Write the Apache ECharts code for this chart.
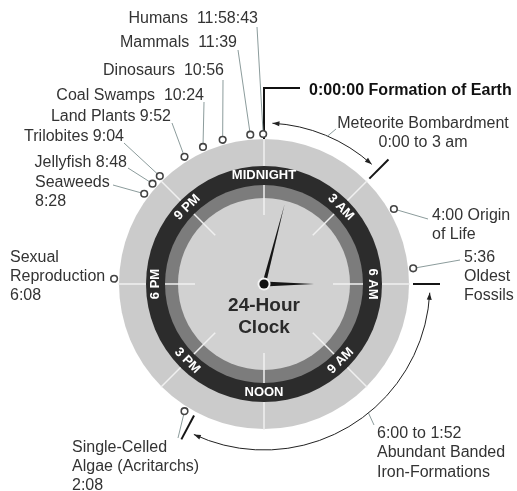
<!DOCTYPE html>
<html>
<head>
<meta charset="utf-8">
<script src="https://cdn.jsdelivr.net/npm/echarts@6/dist/echarts.min.js"></script>
<style>
html, body { margin: 0; padding: 0; background: #fff; }
#main { width: 517px; height: 491px; }
</style>
</head>
<body>
<div id="main"></div>
<script>
var dom = document.getElementById('main');
var myChart = echarts.init(dom);

// dial
var hourMarks = [0, 3, 6, 9, 12, 15, 18, 21];
var hourLabels = ['MIDNIGHT', '3 AM', '6 AM', '9 AM', 'NOON', '3 PM', '6 PM', '9 PM'];
var clockTitle = '24-Hour\nClock';

// events, 24h time on the dial
var eventNames = ['Formation of Earth', 'Origin\nof Life', 'Oldest\nFossils',
    'Single-Celled\nAlgae (Acritarchs)', 'Sexual\nReproduction', 'Seaweeds', 'Jellyfish',
    'Trilobites', 'Land Plants', 'Coal Swamps', 'Dinosaurs', 'Mammals', 'Humans'];
var eventTimes = ['0:00:00', '4:00', '5:36', '14:08', '18:08', '20:28', '20:48',
    '21:04', '21:52', '22:24', '22:56', '23:39', '23:58:43'];

// long periods
var periodNames = ['Meteorite Bombardment', 'Abundant Banded\nIron-Formations'];
var periodSpans = ['0:00 to 3 am', '6:00 to 1:52'];
var periodStart = ['0:00', '6:00'];
var periodEnd = ['3:00', '13:52'];

// clock hands
var handTimes = ['6:00', '0:58'];

var FONT = '"Liberation Sans", Arial, Helvetica, sans-serif';

// label placement (pixels)
var eventLayout = [
    { x: 309, y: 81.5, align: 'left', fmt: '{t} {n}', bold: true, bracket: [88, 300] },
    { x: 432, y: 206.5, align: 'left', fmt: '{t} {n}', lead: [428, 219] },
    { x: 464, y: 248.5, align: 'left', fmt: '{t}\n{n}', lead: [460, 260] },
    { x: 72, y: 438.5, align: 'left', fmt: '{n}\n{t}', lead: [178, 438] },
    { x: 10, y: 248.5, align: 'left', fmt: '{n}\n{t}' },
    { x: 35, y: 173.5, align: 'left', fmt: '{n}\n{t}', lead: [113, 185] },
    { x: 127, y: 153.5, align: 'right', fmt: '{n} {t}', lead: [128, 168] },
    { x: 124, y: 127.5, align: 'right', fmt: '{n} {t}', lead: [124, 143] },
    { x: 171, y: 107.5, align: 'right', fmt: '{n} {t}', lead: [172, 123] },
    { x: 204, y: 86.5, align: 'right', fmt: '{n}  {t}', lead: [204, 102] },
    { x: 224, y: 61.5, align: 'right', fmt: '{n}  {t}', lead: [223, 80] },
    { x: 237, y: 33.5, align: 'right', fmt: '{n}  {t}', lead: [238, 50] },
    { x: 258, y: 9.5, align: 'right', fmt: '{n}  {t}', lead: [257, 27] }
];
var periodLayout = [
    { r: 161, x: 423, y: 113.5, align: 'center', fmt: '{n}\n{t}', leadAt: 1.55, lead: [336, 129] },
    { r: 166, x: 377, y: 423.5, align: 'left', fmt: '{t}\n{n}', leadAt: 9.4, lead: [374, 425] }
];
var handLength = [50, 82];
var handWidth = [2.6, 1.8];

function toHours(s) {
    var p = s.split(':');
    return +p[0] + (+(p[1] || 0)) / 60 + (+(p[2] || 0)) / 3600;
}
function shown(s) {
    var p = s.split(':');
    var h = +p[0];
    if (h > 12) h -= 12;
    p[0] = String(h);
    return p.join(':');
}
function px(api, r) {
    var c = api.coord([0, 0]);
    var t = api.coord([r, 0]);
    return Math.abs(c[1] - t[1]);
}
function seg(a, b, stroke, w) {
    return { type: 'line', shape: { x1: a[0], y1: a[1], x2: b[0], y2: b[1] }, style: { stroke: stroke, lineWidth: w } };
}

function renderFace(params, api) {
    var c = api.coord([0, 0]);
    var rings = [[145, '#cbcbcb'], [118, '#2c2c2c'], [99, '#7c7c7c'], [86, '#d1d1d1']];
    var kids = rings.map(function (g) {
        return { type: 'circle', shape: { cx: c[0], cy: c[1], r: px(api, g[0]) }, style: { fill: g[1] } };
    });
    kids.push({
        type: 'text', x: c[0], y: c[1] + 33,
        style: { text: clockTitle, fill: '#2a2a2a', fontFamily: FONT, fontSize: 19, fontWeight: 'bold',
            align: 'center', verticalAlign: 'middle', lineHeight: 22 }
    });
    return { type: 'group', children: kids };
}

function renderHour(params, api) {
    var i = api.value(2), h = api.value(1);
    var kids = [];
    [[69, 99], [118, 146]].forEach(function (s) {
        kids.push(seg(api.coord([s[0], h]), api.coord([s[1], h]), '#f0f0f0', 1.5));
    });
    var deg = h * 15;
    var rot = (deg > 90 && deg < 270) ? Math.PI - deg * Math.PI / 180
        : -(deg > 180 ? deg - 360 : deg) * Math.PI / 180;
    var p = api.coord([api.value(0), h]);
    kids.push({
        type: 'text', x: p[0], y: p[1], rotation: rot,
        style: { text: hourLabels[i], fill: '#fff', fontFamily: FONT, fontSize: 13, fontWeight: 'bold',
            align: 'center', verticalAlign: 'middle' }
    });
    return { type: 'group', children: kids };
}

function renderPeriod(params, api) {
    var R = api.value(0), h0 = api.value(1), h1 = api.value(2), i = api.value(3);
    var L = periodLayout[i];
    var c = api.coord([0, 0]);
    var pr = px(api, R);
    var a0 = h0 + 0.2, a1 = h1 - 0.2;
    var d = 7 / (pr * Math.PI / 12);
    var kids = [];
    kids.push({
        type: 'arc',
        shape: { cx: c[0], cy: c[1], r: pr, startAngle: (a0 * 15 - 90) * Math.PI / 180,
            endAngle: (a1 * 15 - 90) * Math.PI / 180, clockwise: true },
        style: { stroke: '#222', lineWidth: 1, fill: null }
    });
    kids.push({ type: 'polygon', shape: { points: [api.coord([R, a0]), api.coord([R + 2.5, a0 + d]), api.coord([R - 2.5, a0 + d])] }, style: { fill: '#222' } });
    kids.push({ type: 'polygon', shape: { points: [api.coord([R, a1]), api.coord([R + 2.5, a1 - d]), api.coord([R - 2.5, a1 - d])] }, style: { fill: '#222' } });
    [h0, h1].forEach(function (h) {
        if (h > 0) kids.push(seg(api.coord([149, h]), api.coord([176, h]), '#151515', 2));
    });
    kids.push(seg(api.coord([R, L.leadAt]), L.lead, '#8c9c9c', 1));
    var txt = L.fmt.replace('{n}', periodNames[i]).replace('{t}', periodSpans[i]);
    kids.push({
        type: 'text', x: L.x, y: L.y,
        style: { text: txt, fill: '#333', fontFamily: FONT, fontSize: 16, align: L.align,
            verticalAlign: 'top', lineHeight: 19.5 }
    });
    return { type: 'group', children: kids };
}

function renderEvent(params, api) {
    var i = api.value(2), h = api.value(1);
    var L = eventLayout[i];
    var p = api.coord([api.value(0), h]);
    var kids = [];
    if (L.bracket) {
        var b = api.coord([145, h]);
        kids.push({ type: 'polyline', shape: { points: [b, [b[0], L.bracket[0]], [L.bracket[1], L.bracket[0]]] },
            style: { stroke: '#111', lineWidth: 2, fill: null } });
    } else {
        if (L.lead) kids.push(seg(p, L.lead, '#8c9c9c', 1));
        kids.push({ type: 'circle', shape: { cx: p[0], cy: p[1], r: 3.3 }, style: { fill: '#fff', stroke: '#444', lineWidth: 1.6 } });
    }
    var txt = L.fmt.replace('{n}', eventNames[i]).replace('{t}', shown(eventTimes[i]));
    kids.push({
        type: 'text', x: L.x, y: L.y,
        style: { text: txt, fill: L.bold ? '#111' : '#333', fontFamily: FONT, fontSize: 16,
            fontWeight: L.bold ? 'bold' : 'normal', align: L.align, verticalAlign: 'top', lineHeight: 19 }
    });
    return { type: 'group', children: kids };
}

function renderHand(params, api) {
    var i = api.value(2), h = api.value(1);
    var w = handWidth[i];
    var kids = [{
        type: 'polygon',
        shape: { points: [api.coord([w, (h + 6) % 24]), api.coord([api.value(0), h]), api.coord([w, (h + 18) % 24])] },
        style: { fill: '#151515' }
    }];
    if (i === 0) {
        var c = api.coord([0, 0]);
        kids.push({ type: 'circle', z2: 10, shape: { cx: c[0], cy: c[1], r: 6.5 }, style: { fill: '#f4f4f4' } });
        kids.push({ type: 'circle', z2: 11, shape: { cx: c[0], cy: c[1], r: 4.6 }, style: { fill: '#111' } });
    }
    return { type: 'group', children: kids };
}

var option = {
    animation: false,
    backgroundColor: '#fff',
    polar: { center: [264, 284], radius: 180 },
    angleAxis: { type: 'value', min: 0, max: 24, startAngle: 90, clockwise: true, show: false },
    radiusAxis: { type: 'value', min: 0, max: 180, show: false },
    series: [
        { type: 'custom', coordinateSystem: 'polar', clip: false, silent: true, z: 1,
            renderItem: renderFace, data: [[145, 0]] },
        { type: 'custom', coordinateSystem: 'polar', clip: false, silent: true, z: 2,
            renderItem: renderHour, data: hourMarks.map(function (h, i) { return [108.5, h, i]; }) },
        { type: 'custom', coordinateSystem: 'polar', clip: false, silent: true, z: 3,
            renderItem: renderPeriod,
            data: periodStart.map(function (s, i) { return [periodLayout[i].r, toHours(s), toHours(periodEnd[i]), i]; }) },
        { type: 'custom', coordinateSystem: 'polar', clip: false, silent: true, z: 4,
            renderItem: renderEvent, data: eventTimes.map(function (t, i) { return [150, toHours(t), i]; }) },
        { type: 'custom', coordinateSystem: 'polar', clip: false, silent: true, z: 5,
            renderItem: renderHand, data: handTimes.map(function (t, i) { return [handLength[i], toHours(t), i]; }) }
    ]
};

myChart.setOption(option);
</script>
</body>
</html>
